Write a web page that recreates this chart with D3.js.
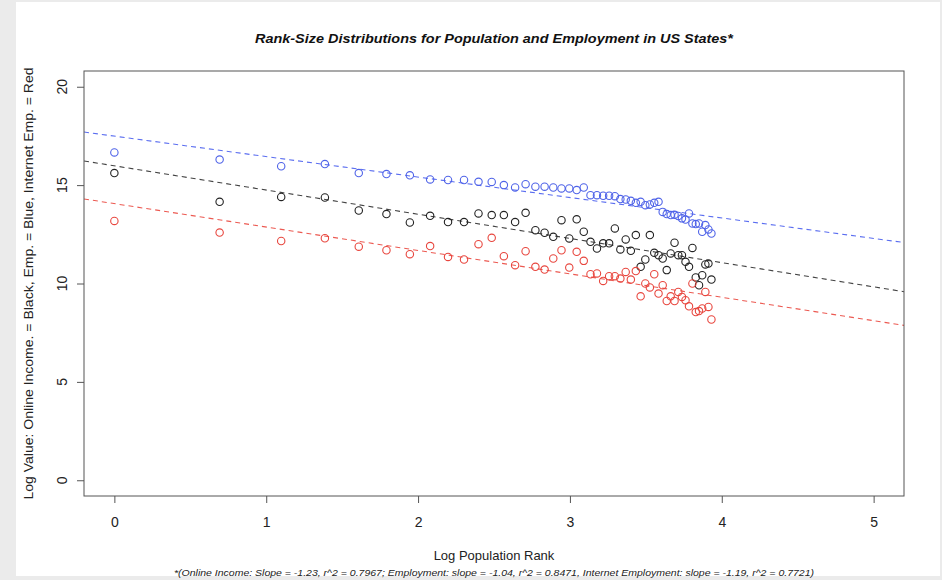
<!DOCTYPE html>
<html>
<head>
<meta charset="utf-8">
<script src="https://cdnjs.cloudflare.com/ajax/libs/d3/7.8.5/d3.min.js"></script>
<style>
  body { margin: 0; background: #ebebeb; }
  #d3Container { width: 942px; height: 580px; }
  text { font-family: "Liberation Sans", Arial, sans-serif; }
</style>
</head>
<body>
<div id="d3Container"></div>
<script>
// state population rank 1..51 (x = log rank)
const ranks = d3.range(1, 52)

const onlineIncome = [15.61, 14.15, 14.40, 14.37, 13.71, 13.53, 13.10, 13.44, 13.12, 13.12,
  13.56, 13.48, 13.48, 13.12, 13.59, 12.71, 12.58, 12.37, 13.22, 12.29,
  13.26, 12.63, 12.12, 11.78, 12.04, 12.04, 12.80, 11.73, 12.24, 11.66,
  12.46, 10.85, 11.22, 12.46, 11.56, 11.44, 11.27, 10.68, 11.53, 12.07,
  11.44, 11.44, 11.10, 10.85, 11.81, 10.31, 9.91, 10.42, 10.97, 11.02, 10.20]

const employment = [16.66, 16.30, 15.96, 16.07, 15.61, 15.56, 15.50, 15.29, 15.26, 15.26,
  15.17, 15.16, 15.00, 14.88, 15.05, 14.92, 14.92, 14.88, 14.83, 14.83,
  14.75, 14.88, 14.49, 14.49, 14.46, 14.46, 14.44, 14.29, 14.27, 14.20,
  14.10, 14.15, 13.98, 14.02, 14.10, 14.15, 13.64, 13.53, 13.48, 13.50,
  13.43, 13.31, 13.25, 13.56, 13.05, 13.02, 13.05, 12.63, 12.97, 12.75, 12.54]

const internetEmp = [13.18, 12.59, 12.16, 12.30, 11.87, 11.69, 11.49, 11.90, 11.35, 11.22,
  12.00, 12.32, 11.39, 10.93, 11.64, 10.85, 10.71, 11.27, 11.69, 10.81,
  11.61, 11.15, 10.47, 10.51, 10.13, 10.37, 10.37, 10.25, 10.59, 10.20,
  10.63, 9.35, 10.00, 9.80, 10.47, 9.49, 9.91, 9.11, 9.35, 9.11,
  9.57, 9.32, 9.15, 8.84, 10.00, 8.55, 8.60, 8.73, 9.57, 8.81, 8.17]

// fitted lines: [intercept, slope]
const fitIncome = [15.98, -1.23]
const fitEmp = [17.49, -1.04]
const fitInternet = [14.06, -1.19]

const xTicks = [0, 1, 2, 3, 4, 5]
const yTicks = [0, 5, 10, 15, 20]

const TITLE = 'Rank-Size Distributions for Population and Employment in US States*'
const X_TITLE = 'Log Population Rank'
const Y_TITLE = 'Log Value: Online Income. = Black, Emp. = Blue, Internet Emp. = Red'
const NOTE = '*(Online Income: Slope = -1.23, r^2 = 0.7967; Employment: slope = -1.04, r^2 = 0.8471, Internet Employment: slope = -1.19, r^2 = 0.7721)'

const width = 942
const height = 580
const box = {left: 84, right: 904, top: 71, bottom: 496}

const xScale = d3.scaleLinear().domain([-0.2, 5.2]).range([box.left, box.right])
const yScale = d3.scaleLinear().domain([-0.8, 20.8]).range([box.bottom, box.top])

const svg = d3.select('#d3Container')
  .append('svg')
  .attr('width', width)
  .attr('height', height)

svg.append('rect')
  .attr('x', 16).attr('y', 2).attr('width', 924).attr('height', 574)
  .attr('fill', '#fff')

svg.append('defs').append('clipPath').attr('id', 'plotClip')
  .append('rect')
  .attr('x', box.left).attr('y', box.top)
  .attr('width', box.right - box.left).attr('height', box.bottom - box.top)

const series = [
  {values: employment, fit: fitEmp, color: '#4f63e8', line: '#5b6ef0'},
  {values: onlineIncome, fit: fitIncome, color: '#222', line: '#444'},
  {values: internetEmp, fit: fitInternet, color: '#e8463e', line: '#ec5a52'}
]

const plot = svg.append('g').attr('clip-path', 'url(#plotClip)')

series.forEach(s => {
  const [x0, x1] = xScale.domain()
  plot.append('line')
    .attr('x1', xScale(x0)).attr('x2', xScale(x1))
    .attr('y1', yScale(s.fit[0] + s.fit[1] * x0))
    .attr('y2', yScale(s.fit[0] + s.fit[1] * x1))
    .attr('stroke', s.line).attr('stroke-width', 1.1)
    .attr('stroke-dasharray', '5,4')

  plot.selectAll(null)
    .data(ranks)
    .enter()
    .append('circle')
    .attr('cx', d => xScale(Math.log(d)))
    .attr('cy', (d, i) => yScale(s.values[i]))
    .attr('r', 3.7)
    .attr('fill', 'none')
    .attr('stroke', s.color)
    .attr('stroke-width', 1.1)
})

svg.append('rect')
  .attr('x', box.left).attr('y', box.top)
  .attr('width', box.right - box.left).attr('height', box.bottom - box.top)
  .attr('fill', 'none').attr('stroke', '#555').attr('stroke-width', 1)

// x axis
const xAxis = d3.axisBottom(xScale).tickValues(xTicks).tickFormat(d3.format('d')).tickSize(7).tickPadding(14)
svg.append('g')
  .attr('transform', `translate(0, ${box.bottom})`)
  .call(xAxis)
  .call(g => {
    g.select('.domain').remove()
    g.selectAll('line').attr('stroke', '#555')
    g.selectAll('text').attr('font-size', 14).attr('fill', '#222')
      .attr('font-family', '"Liberation Sans", Arial, sans-serif')
  })

// y axis, rotated labels like base R
const yAxis = d3.axisLeft(yScale).tickValues(yTicks).tickSize(7).tickFormat('')
svg.append('g')
  .attr('transform', `translate(${box.left}, 0)`)
  .call(yAxis)
  .call(g => {
    g.select('.domain').remove()
    g.selectAll('line').attr('stroke', '#555')
  })

svg.selectAll('text.ylab')
  .data(yTicks)
  .enter()
  .append('text')
  .classed('ylab', true)
  .attr('transform', d => `translate(67, ${yScale(d)}) rotate(-90)`)
  .attr('text-anchor', 'middle')
  .attr('font-size', 14).attr('fill', '#222')
  .text(d => d)

svg.append('text')
  .attr('x', (box.left + box.right) / 2).attr('y', 43)
  .attr('text-anchor', 'middle')
  .attr('font-size', 13).attr('font-weight', 'bold').attr('font-style', 'italic')
  .attr('fill', '#111')
  .attr('textLength', 478).attr('lengthAdjust', 'spacingAndGlyphs')
  .text(TITLE)

svg.append('text')
  .attr('x', (box.left + box.right) / 2).attr('y', 560)
  .attr('text-anchor', 'middle')
  .attr('font-size', 13).attr('fill', '#222')
  .text(X_TITLE)

svg.append('text')
  .attr('x', (box.left + box.right) / 2).attr('y', 576)
  .attr('text-anchor', 'middle')
  .attr('font-size', 9.5).attr('font-style', 'italic').attr('fill', '#222')
  .attr('textLength', 640).attr('lengthAdjust', 'spacingAndGlyphs')
  .text(NOTE)

svg.append('text')
  .attr('transform', `translate(33, ${(box.top + box.bottom) / 2}) rotate(-90)`)
  .attr('text-anchor', 'middle')
  .attr('font-size', 13).attr('fill', '#222')
  .attr('textLength', 432).attr('lengthAdjust', 'spacingAndGlyphs')
  .text(Y_TITLE)
</script>
</body>
</html>
